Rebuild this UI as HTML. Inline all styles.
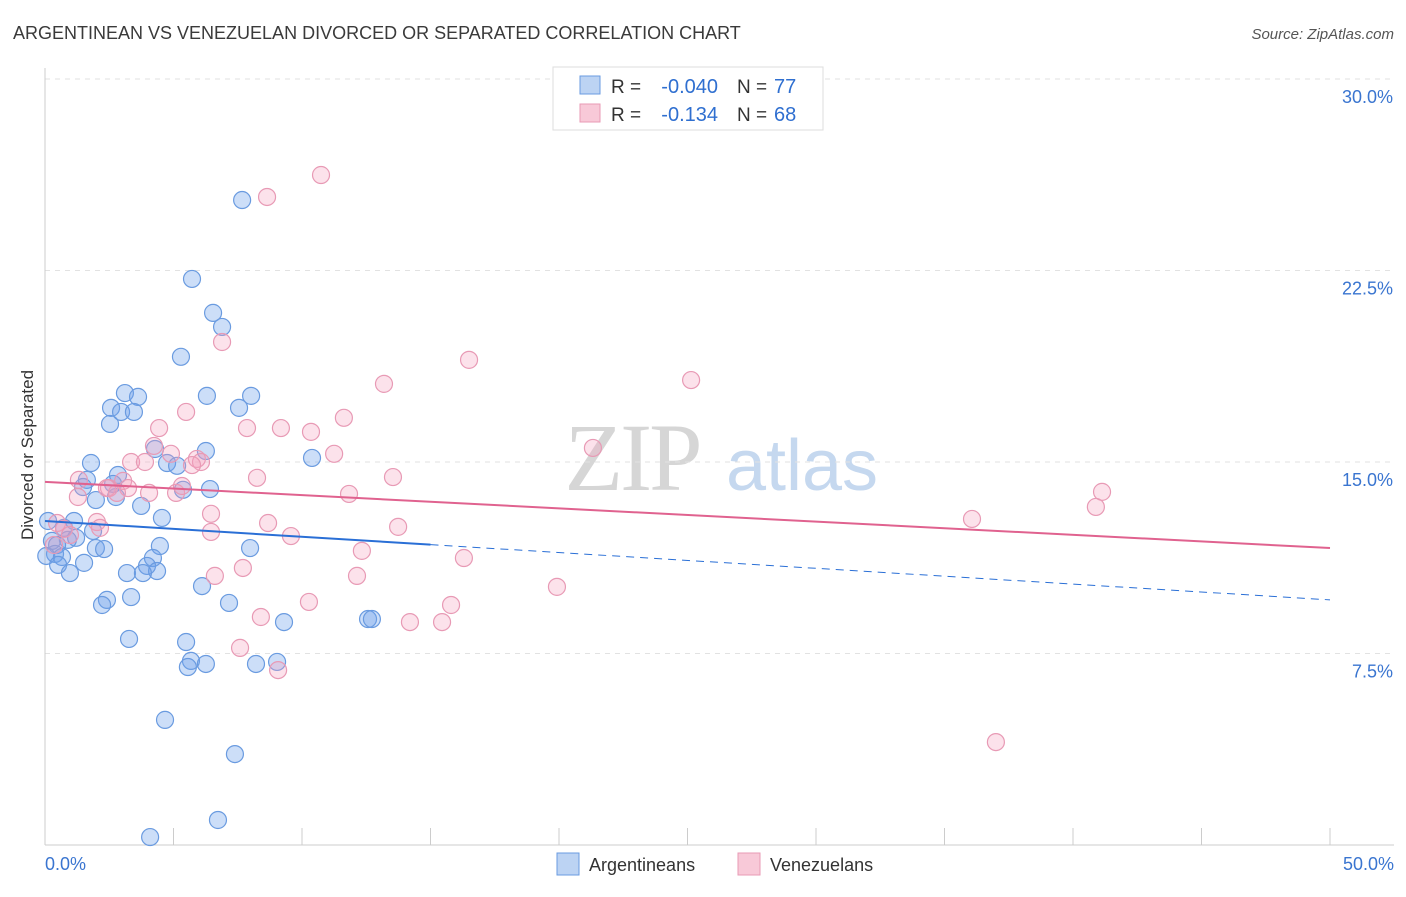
<!DOCTYPE html>
<html><head><meta charset="utf-8"><style>
body{margin:0;background:#fff;font-family:"Liberation Sans",sans-serif;}
</style></head><body>
<svg id="chart" width="1406" height="892" viewBox="0 0 1406 892" xmlns="http://www.w3.org/2000/svg" font-family="Liberation Sans, sans-serif">
<text x="13" y="39" font-size="18" fill="#3a3a3a">ARGENTINEAN VS VENEZUELAN DIVORCED OR SEPARATED CORRELATION CHART</text>
<text x="1394" y="39" font-size="15" fill="#555" font-style="italic" text-anchor="end">Source: ZipAtlas.com</text>
<g>
<text x="632" y="490" font-size="96" fill="#d6d6d6" text-anchor="middle" style="font-family:'Liberation Serif',serif" letter-spacing="-3">ZIP</text>
<text x="802" y="490" font-size="72" fill="#c5d8ef" text-anchor="middle">atlas</text>
</g>
<g id="grid"></g>
<g id="axes"></g>
<g id="pts"></g>
<g id="lines"></g>
<text transform="translate(33,455) rotate(-90)" font-size="17" fill="#333" text-anchor="middle">Divorced or Separated</text>
<g>
<rect x="553" y="67" width="270" height="63" fill="#fff" stroke="#ddd"/>
<rect x="580" y="76" width="20" height="18" fill="#bcd3f3" stroke="#6a9be0"/>
<rect x="580" y="104" width="20" height="18" fill="#f8c9d8" stroke="#e89ab5"/>
<text x="611" y="93" font-size="19" fill="#333">R =</text>
<text x="718" y="93" font-size="20" fill="#2f6fd0" text-anchor="end">-0.040</text>
<text x="737" y="93" font-size="19" fill="#333">N =</text>
<text x="774" y="93" font-size="20" fill="#2f6fd0">77</text>
<text x="611" y="121" font-size="19" fill="#333">R =</text>
<text x="718" y="121" font-size="20" fill="#2f6fd0" text-anchor="end">-0.134</text>
<text x="737" y="121" font-size="19" fill="#333">N =</text>
<text x="774" y="121" font-size="20" fill="#2f6fd0">68</text>
</g>
<g>
<rect x="557" y="853" width="22" height="22" fill="#bcd3f3" stroke="#6a9be0"/>
<text x="589" y="871" font-size="18" fill="#333">Argentineans</text>
<rect x="738" y="853" width="22" height="22" fill="#f8c9d8" stroke="#e89ab5"/>
<text x="770" y="871" font-size="18" fill="#333">Venezuelans</text>
</g>
</svg>
<script>
const yTicks=[7.5,15,22.5,30];
const yTickLabels=["7.5%","15.0%","22.5%","30.0%"];
const xTickLabels=["0.0%","50.0%"];
const argX=[7.67,5.72,6.54,6.89,5.29,3.11,3.62,6.30,8.02,2.57,2.96,3.46,7.55,2.53,4.28,6.26,10.39,1.79,4.75,5.14,2.84,1.63,2.65,1.48,6.42,5.37,2.76,1.98,3.74,4.55,0.12,1.13,0.74,1.87,1.21,0.27,0.89,0.47,4.47,1.98,2.30,7.98,0.39,4.20,0.05,0.66,1.52,0.51,3.97,3.19,4.36,3.81,0.97,6.11,2.41,3.35,2.22,7.16,9.30,12.57,12.72,3.27,5.49,5.68,6.26,5.56,8.21,9.03,4.67,7.39,6.73,4.09];
const argY=[25.26,22.17,20.84,20.29,19.12,17.70,17.55,17.59,17.59,17.12,16.96,16.96,17.12,16.49,15.51,15.43,15.16,14.96,14.96,14.85,14.49,14.30,14.14,14.02,13.94,13.91,13.63,13.51,13.28,12.81,12.69,12.69,12.42,12.30,12.03,11.91,11.95,11.75,11.71,11.63,11.59,11.63,11.40,11.24,11.32,11.28,11.05,10.97,10.93,10.65,10.73,10.65,10.65,10.14,9.60,9.71,9.40,9.48,8.73,8.85,8.85,8.07,7.95,7.21,7.09,6.97,7.09,7.17,4.90,3.56,0.98,0.31];
const venX=[10.74,8.64,6.89,16.50,13.19,25.14,5.49,11.63,7.86,9.18,10.35,4.44,4.24,4.90,11.25,21.32,5.91,3.35,3.89,6.07,5.72,8.25,13.54,1.32,3.04,2.49,3.23,2.41,2.80,4.05,5.10,5.33,11.83,41.13,40.89,1.28,6.46,2.02,0.47,8.68,36.07,2.14,13.74,0.74,6.46,9.57,0.97,0.35,12.33,16.30,7.70,6.61,12.14,19.92,10.27,15.80,8.40,14.20,15.45,7.59,9.07,37.00];
const venY=[26.24,25.38,19.70,19.00,18.06,18.21,16.96,16.73,16.33,16.33,16.18,16.33,15.63,15.32,15.32,15.55,15.12,15.00,15.00,15.00,14.88,14.38,14.41,14.30,14.26,13.98,13.98,13.98,13.79,13.79,13.79,14.06,13.75,13.83,13.24,13.63,12.97,12.65,12.61,12.61,12.77,12.42,12.46,12.38,12.26,12.10,12.14,11.75,11.52,11.24,10.85,10.54,10.54,10.11,9.52,9.40,8.93,8.73,8.73,7.72,6.85,4.03];
const argTrend=[12.69,-0.0618];
const venTrend=[14.22,-0.0518];
const NS="http://www.w3.org/2000/svg";
const X0=45,X1=1330,Y0=845,YTOP=79;
const xs=v=>X0+(X1-X0)*v/50;
const ys=v=>Y0-(Y0-YTOP)*v/30;
function mk(tag,attrs,parent){const e=document.createElementNS(NS,tag);for(const k in attrs)e.setAttribute(k,attrs[k]);document.getElementById(parent).appendChild(e);return e;}
yTicks.forEach((t,i)=>{
 const l=mk('line',{x1:45,x2:1394,y1:ys(t),y2:ys(t),stroke:'#e2e2e2','stroke-dasharray':'5,5'},'grid');
 
 
 const tx=mk('text',{x:1393,y:ys(t)+24,'font-size':18,fill:'#3a75d0','text-anchor':'end'},'grid');
 tx.textContent=yTickLabels[i];
 
 
});
mk('line',{x1:45,x2:45,y1:68,y2:845,stroke:'#ccc'},'axes');
mk('line',{x1:45,x2:1394,y1:845,y2:845,stroke:'#ccc'},'axes');
for(let i=0;i<=10;i++){mk('line',{x1:xs(i*5),x2:xs(i*5),y1:828,y2:845,stroke:'#ccc'},'axes');}
const xl0=mk('text',{x:45,y:870,'font-size':18,fill:'#3a75d0'},'axes');xl0.textContent=xTickLabels[0];


const xl1=mk('text',{x:1394,y:870,'font-size':18,fill:'#3a75d0','text-anchor':'end'},'axes');xl1.textContent=xTickLabels[1];


argX.forEach((x,i)=>{const c=mk('circle',{cx:xs(x),cy:ys(argY[i]),r:8.5,fill:'rgba(110,160,235,0.35)',stroke:'#6a9be0','stroke-width':1.2},'pts');
 
 });
venX.forEach((x,i)=>{const c=mk('circle',{cx:xs(x),cy:ys(venY[i]),r:8.5,fill:'rgba(245,160,190,0.3)',stroke:'#e89ab5','stroke-width':1.2},'pts');
 
 });
const f=(t,x)=>t[0]+t[1]*x;
const a1=mk('line',{x1:xs(0),y1:ys(f(argTrend,0)),x2:xs(15),y2:ys(f(argTrend,15)),stroke:'#2a6fd6','stroke-width':2},'lines');


const a2=mk('line',{x1:xs(15),y1:ys(f(argTrend,15)),x2:xs(50),y2:ys(f(argTrend,50)),stroke:'#2a6fd6','stroke-width':1,'stroke-dasharray':'8,6'},'lines');


const v1=mk('line',{x1:xs(0),y1:ys(f(venTrend,0)),x2:xs(50),y2:ys(f(venTrend,50)),stroke:'#e0628f','stroke-width':2},'lines');


</script>
</body></html>
